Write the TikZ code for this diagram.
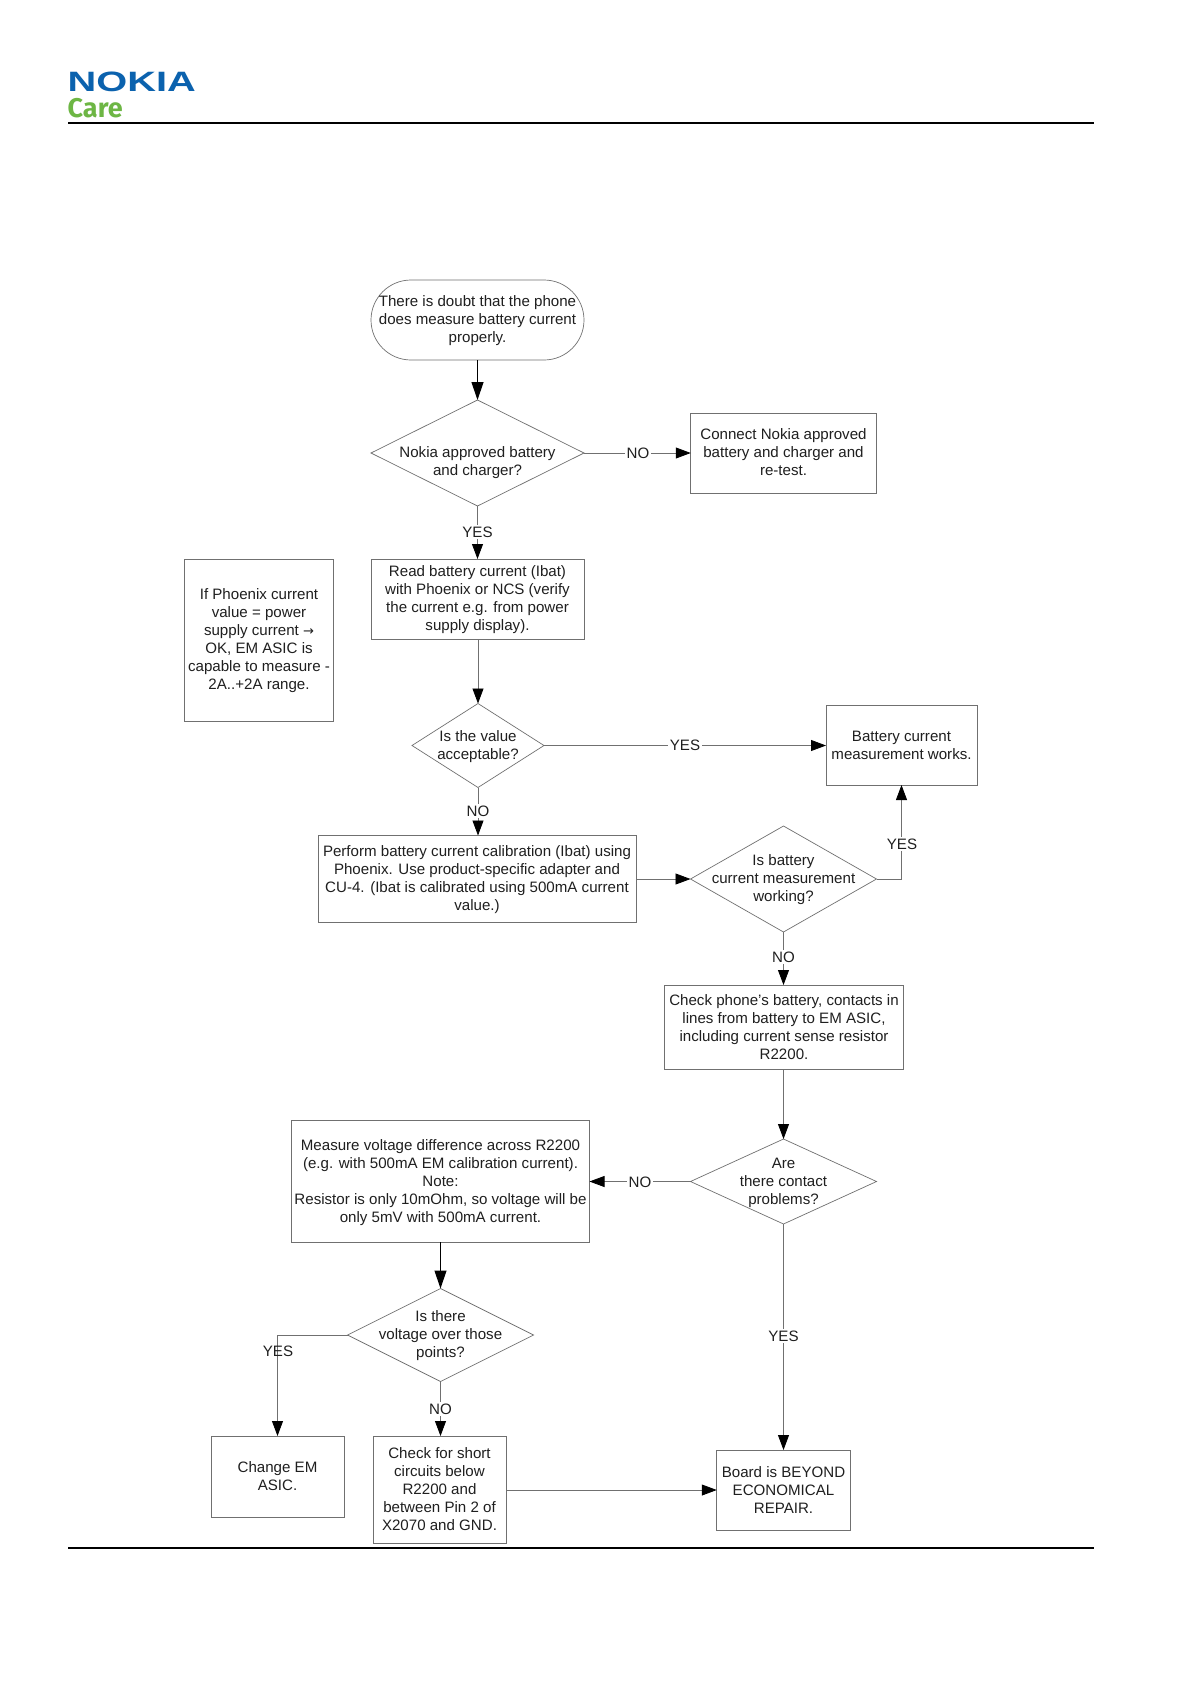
\documentclass[tikz,border=0pt]{standalone}
\usepackage{graphicx}
\usepackage{fontspec}
\setmainfont{Liberation Sans}
\newfontfamily\carefont{Fira Sans}
\newfontfamily\symfont{DejaVu Sans}
\usetikzlibrary{arrows.meta,shapes.geometric}
\definecolor{linegray}{gray}{0.44}
\definecolor{nokiablue}{HTML}{0B62AE}
\definecolor{caregreen}{HTML}{6DB644}
\tikzset{
  txt/.style={align=center,inner sep=0pt,font=\fontsize{15.1}{18}\selectfont,text=black!88},
  box/.style={draw=linegray,line width=0.7pt,outer sep=0pt,inner sep=0pt,align=center,font=\fontsize{15.1}{18}\selectfont,text=black!88},
  startbox/.style={box,rounded corners=40pt},
  dec/.style={shape=diamond,draw=linegray,line width=0.7pt,outer sep=0pt,inner sep=0pt},
  conn/.style={draw=linegray,line width=0.8pt,-{Triangle[length=15pt,width=11pt,fill=black,color=black]}},
  strong/.style={draw=black,line width=1.2pt,-{Triangle[length=18pt,width=12pt,fill=black,color=black]}},
  lab/.style={fill=white,inner sep=1.5pt,font=\fontsize{15.1}{18}\selectfont,text=black!88},
  labplain/.style={inner sep=1pt,font=\fontsize{15.1}{18}\selectfont,text=black!88},
  rule/.style={draw=black,line width=2pt}
}
\begin{document}
\begin{tikzpicture}[x=1pt,y=-1pt]
\useasboundingbox (0,0) rectangle (1191,1684);
\fill[white] (0,0) rectangle (1191,1684);
% header and footer
\node[anchor=south west,inner sep=0pt,text=nokiablue] (logo) at (67.5,91.5) {\scalebox{1.42}[1]{\fontsize{28}{28}\selectfont\bfseries NOKIA}};
\node[anchor=south west,inner sep=0pt,text=caregreen] (care) at (67.5,118) {\carefont\fontsize{27}{30}\selectfont\bfseries Care};
\coordinate (tl) at (68,123);
\coordinate (tr) at (1094,123);
\coordinate (bl) at (68,1548);
\coordinate (br) at (1094,1548);
\draw[rule] (tl) -- (tr);
\draw[rule] (bl) -- (br);
% nodes
\node[startbox,minimum width=213pt,minimum height=80pt,label={[txt,yshift=-1pt]center:There is doubt that the phone\\does measure battery current\\properly.}] (start) at (477.5,320) {};
\node[dec,minimum width=213pt,minimum height=106pt,label={[txt,yshift=-10pt]center:Nokia approved battery\\and charger?}] (d1) at (477.5,453) {};
\node[box,minimum width=185.5pt,minimum height=80pt,label={[txt,yshift=1pt]center:Connect Nokia approved\\battery and charger and\\re-test.}] (conn1) at (783.5,453) {};
\node[box,minimum width=213pt,minimum height=80pt,label={[txt,yshift=-1pt]center:Read battery current (Ibat)\\with Phoenix or NCS (verify\\the current e.g. from power\\supply display).}] (read) at (477.5,599) {};
\node[box,minimum width=148.5pt,minimum height=162pt,label={[txt,yshift=-1pt]center:If Phoenix current\\value = power\\supply current {\symfont\fontsize{13}{18}\selectfont →}\\OK, EM ASIC is\\capable to measure -\\2A..+2A range.}] (note) at (259,640) {};
\node[dec,minimum width=132pt,minimum height=84pt,label={[txt,yshift=-1pt]center:Is the value\\acceptable?}] (d2) at (478,745.5) {};
\node[box,minimum width=151pt,minimum height=80pt] (batt) at (901.5,745) {Battery current\\measurement works.};
\node[box,minimum width=318pt,minimum height=87pt,label={[txt,yshift=-1pt]center:Perform battery current calibration (Ibat) using\\Phoenix. Use product-specific adapter and\\CU-4. (Ibat is calibrated using 500mA current\\value.)}] (perf) at (477,879) {};
\node[dec,minimum width=186pt,minimum height=106pt,label={[txt,yshift=-1pt]center:Is battery\\current measurement\\working?}] (d3) at (783.5,879) {};
\node[box,minimum width=239pt,minimum height=84pt] (chk) at (784,1027) {Check phone’s battery, contacts in\\lines from battery to EM ASIC,\\including current sense resistor\\R2200.};
\node[dec,minimum width=186pt,minimum height=85pt,label={[txt,yshift=-1pt]center:Are\\there contact\\problems?}] (d4) at (783.5,1181.5) {};
\node[box,minimum width=298pt,minimum height=122pt,label={[txt,yshift=-2pt]center:Measure voltage difference across R2200\\(e.g. with 500mA EM calibration current).\\Note:\\Resistor is only 10mOhm, so voltage will be\\only 5mV with 500mA current.}] (meas) at (440.5,1181) {};
\node[dec,minimum width=186pt,minimum height=93pt,label={[txt,yshift=-1pt]center:Is there\\voltage over those\\points?}] (d5) at (440.5,1335) {};
\node[box,minimum width=133pt,minimum height=81pt] (chg) at (277.5,1476.5) {Change EM\\ASIC.};
\node[box,minimum width=133pt,minimum height=107pt] (sht) at (439.5,1489.5) {Check for short\\circuits below\\R2200 and\\between Pin 2 of\\X2070 and GND.};
\node[box,minimum width=133.5pt,minimum height=80pt] (board) at (783.5,1490) {Board is BEYOND\\ECONOMICAL\\REPAIR.};
% connectors
\draw[strong] (start) -- (d1);
\draw[conn] (d1) -- (conn1);
\draw[conn] (d1) -- (read);
\draw[conn] (read.south -| d2.north) -- (d2);
\draw[conn] (d2.east) -- (batt.west |- d2.east);
\draw[conn] (d2.south) -- (perf.north -| d2.south);
\draw[conn] (perf.east |- d3.west) -- (d3.west);
\draw[conn] (d3.east) -| (batt.south);
\draw[conn] (d3.south) -- (chk.north -| d3.south);
\draw[conn] (chk.south -| d4.north) -- (d4.north);
\draw[conn] (d4.west) -- (meas.east |- d4.west);
\draw[strong] (meas) -- (d5);
\draw[conn] (d5.west) -| (chg.north);
\draw[conn] (d5.south) -- (sht.north -| d5.south);
\draw[conn] (d4.south) -- (board.north -| d4.south);
\draw[conn] (sht.east |- board.west) -- (board.west);
% labels
\node[lab] (l1) at (638,453) {NO};
\node[lab] (l2) at (477.5,532) {YES};
\node[lab] (l3) at (685,745.5) {YES};
\node[lab] (l4) at (478,811) {NO};
\node[lab] (l5) at (902,844) {YES};
\node[lab] (l6) at (783.5,957) {NO};
\node[lab] (l7) at (640,1182) {NO};
\node[lab] (l8) at (783.5,1336) {YES};
\node[labplain] (l9) at (278,1351) {YES};
\node[lab] (l10) at (440.5,1409) {NO};
\end{tikzpicture}
\end{document}
